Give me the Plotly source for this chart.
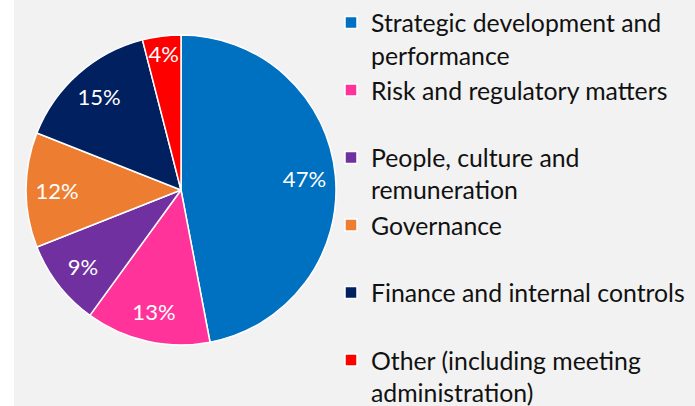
import plotly.graph_objects as go

categories = [
    "Strategic development and<br>performance",
    "Risk and regulatory matters<br> ",
    "People, culture and<br>remuneration",
    "Governance<br> ",
    "Finance and internal controls<br> ",
    "Other (including meeting<br>administration)",
]
values = [47, 13, 9, 12, 15, 4]
colors = ["#0070C0", "#FF3399", "#7030A0", "#ED7D31", "#002060", "#FF0000"]

W, H = 695, 406
dom = dict(x=[25 / W, 337 / W], y=[1 - 345 / H, 1 - 35 / H])

fig = go.Figure()
# coloured slices
fig.add_trace(
    go.Pie(
        labels=categories,
        values=values,
        sort=False,
        direction="clockwise",
        rotation=0,
        marker=dict(colors=colors, line=dict(color="white", width=1.5)),
        textinfo="none",
        domain=dom,
        hoverinfo="skip",
    )
)
# transparent ring carrying the percentage labels (places them near the rim)
fig.add_trace(
    go.Pie(
        labels=categories,
        values=values,
        sort=False,
        direction="clockwise",
        rotation=0,
        hole=0.6,
        marker=dict(colors=["rgba(0,0,0,0)"] * len(values), line=dict(width=0)),
        texttemplate="%{value}%",
        textposition="inside",
        insidetextorientation="horizontal",
        insidetextfont=dict(color="white", size=22, family="Lato"),
        domain=dom,
        hoverinfo="skip",
        showlegend=False,
    )
)

fig.update_layout(
    width=W,
    height=H,
    margin=dict(l=0, r=0, t=0, b=0),
    paper_bgcolor="#F2F2F2",
    plot_bgcolor="#F2F2F2",
    font=dict(family="Lato", color="#111111"),
    uniformtext=dict(minsize=22, mode="show"),
    legend=dict(
        x=331 / W,
        xanchor="left",
        y=1 - 4 / H,
        yanchor="top",
        maxheight=600,
        font=dict(size=24.8, family="Lato", color="#111111"),
        valign="top",
        bgcolor="rgba(0,0,0,0)",
        traceorder="normal",
    ),
    shapes=[
        dict(type="rect", xref="paper", yref="paper", x0=0, x1=14 / W, y0=0, y1=1,
             fillcolor="white", line=dict(width=0), layer="below"),
    ],
)

fig.write_html(
    "out.html",
    config={"displayModeBar": False},
    post_script="document.body.style.margin='0';document.body.style.overflow='hidden';",
)
